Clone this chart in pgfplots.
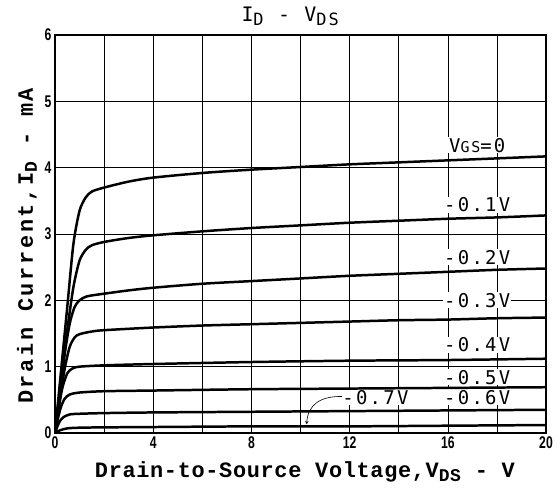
\documentclass[border=0pt]{standalone}
\usepackage{fontspec}
\usepackage{pgfplots}
\pgfplotsset{compat=1.18}
\newfontfamily\lbl{Liberation Mono}[LetterSpace=3]
\newfontfamily\lblsp{Liberation Mono}[LetterSpace=12]
\newfontfamily\lett{DejaVu Sans Mono}[LetterSpace=12]
\newfontfamily\tickf{Liberation Sans}[FakeStretch=0.72]
\newcommand{\cl}{\fontsize{19}{19}\lett}
\begin{document}
\begin{tikzpicture}
\useasboundingbox (-55bp,-62bp) rectangle (505bp,433bp);
\begin{axis}[at={(0,0)}, anchor=south west, scale only axis,
  width=491bp, height=398bp,
  xmin=0, xmax=20, ymin=0, ymax=6,
  xtick={0,4,...,20}, minor xtick={2,6,...,18}, ytick={0,1,...,6},
  grid=both,
  major grid style={black, line width=0.5pt},
  minor grid style={black, line width=0.5pt},
  major tick length=0pt, minor tick length=0pt,
  axis line style={line width=1.3pt},
  xticklabel={\fontsize{17}{17}\tickf\bfseries\pgfmathprintnumber[assume math mode=true]{\tick}},
  yticklabel={\fontsize{17}{17}\tickf\bfseries\pgfmathprintnumber[assume math mode=true]{\tick}},
  xlabel={\bfseries Drain-to-Source Voltage,V\raisebox{-0.35ex}{\fontsize{18}{18}\selectfont DS} - V},
  ylabel={\bfseries Drain Current,I\raisebox{-0.35ex}{\fontsize{18}{18}\selectfont D} - mA},
  xlabel style={font=\fontsize{22}{22}\lbl, at={(axis description cs:0.509,-0.1106)}, anchor=base},
  ylabel style={font=\fontsize{22}{22}\lblsp, at={(axis description cs:-0.045,0.47)}, anchor=base, rotate=0},
  title={I\raisebox{-0.4ex}{\fontsize{17}{17}\selectfont D} - V\raisebox{-0.4ex}{\fontsize{17}{17}\selectfont DS}},
  title style={font=\fontsize{20}{20}\lett, at={(axis description cs:0.479,1.02)}, anchor=base},
  clip=true,
]
\tikzset{cur/.style={black, line width=2.5pt, smooth, tension=0.45, no markers}}
\node[fill=white, inner sep=1pt, font=\cl] at (axis cs:17.2,4.34) {V{\fontsize{15}{15}\selectfont GS}=0};
\node[fill=white, inner sep=1pt, font=\cl] at (axis cs:17.2,3.44) {-0.1V};
\node[fill=white, inner sep=1pt, font=\cl] at (axis cs:17.2,2.65) {-0.2V};
\node[fill=white, inner sep=1pt, font=\cl] at (axis cs:17.2,2.00) {-0.3V};
\node[fill=white, inner sep=1pt, font=\cl] at (axis cs:17.2,1.33) {-0.4V};
\node[fill=white, inner sep=1pt, font=\cl] at (axis cs:17.2,0.84) {-0.5V};
\node[fill=white, inner sep=1pt, font=\cl] at (axis cs:17.2,0.54) {-0.6V};
\node[fill=white, inner sep=1pt, font=\cl] at (axis cs:13.05,0.54) {-0.7V};
\draw[->, >=stealth, line width=0.6pt] (axis cs:11.7,0.55) .. controls (axis cs:10.8,0.56) and (axis cs:10.3,0.42) .. (axis cs:10.25,0.13);
% VGS = 0
\addplot[cur] coordinates {(0,0)(0.25,0.95)(0.5,1.9)(0.75,2.85)(1.0,3.35)(1.25,3.55)(1.5,3.64)(2,3.70)(3,3.79)(4,3.85)(6,3.92)(8,3.97)(10,4.01)(12,4.05)(14,4.08)(16,4.11)(18,4.14)(20,4.17)};
% -0.1 V
\addplot[cur] coordinates {(0,0)(0.25,0.8)(0.5,1.55)(0.75,2.2)(1.0,2.6)(1.25,2.76)(1.5,2.83)(2,2.88)(3,2.94)(4,2.98)(6,3.04)(8,3.09)(10,3.13)(12,3.17)(14,3.20)(16,3.23)(18,3.25)(20,3.28)};
% -0.2 V
\addplot[cur] coordinates {(0,0)(0.2,0.62)(0.4,1.2)(0.6,1.65)(0.8,1.9)(1.0,2.0)(1.3,2.06)(2,2.1)(3,2.15)(4,2.19)(6,2.25)(8,2.29)(10,2.33)(12,2.37)(14,2.40)(16,2.43)(18,2.46)(20,2.48)};
% -0.3 V
\addplot[cur] coordinates {(0,0)(0.2,0.52)(0.4,0.98)(0.6,1.3)(0.8,1.44)(1.0,1.49)(1.5,1.53)(2,1.55)(4,1.59)(6,1.62)(8,1.64)(10,1.66)(12,1.68)(14,1.70)(16,1.71)(18,1.73)(20,1.74)};
% -0.4 V
\addplot[cur] coordinates {(0,0)(0.15,0.37)(0.3,0.68)(0.5,0.9)(0.7,0.97)(1.0,1.0)(2,1.02)(4,1.04)(8,1.07)(12,1.09)(16,1.10)(20,1.12)};
% -0.5 V
\addplot[cur] coordinates {(0,0)(0.12,0.22)(0.25,0.4)(0.4,0.52)(0.6,0.58)(1,0.61)(2,0.63)(4,0.64)(8,0.66)(12,0.67)(16,0.68)(20,0.69)};
% -0.6 V
\addplot[cur] coordinates {(0,0)(0.1,0.1)(0.2,0.18)(0.35,0.24)(0.6,0.28)(1,0.29)(2,0.3)(4,0.31)(8,0.32)(12,0.33)(16,0.34)(20,0.35)};
% -0.7 V
\addplot[cur] coordinates {(0,0)(0.2,0.04)(0.5,0.07)(1,0.08)(2,0.085)(4,0.09)(8,0.1)(12,0.1)(16,0.11)(20,0.12)};
\end{axis}
\end{tikzpicture}
\end{document}
